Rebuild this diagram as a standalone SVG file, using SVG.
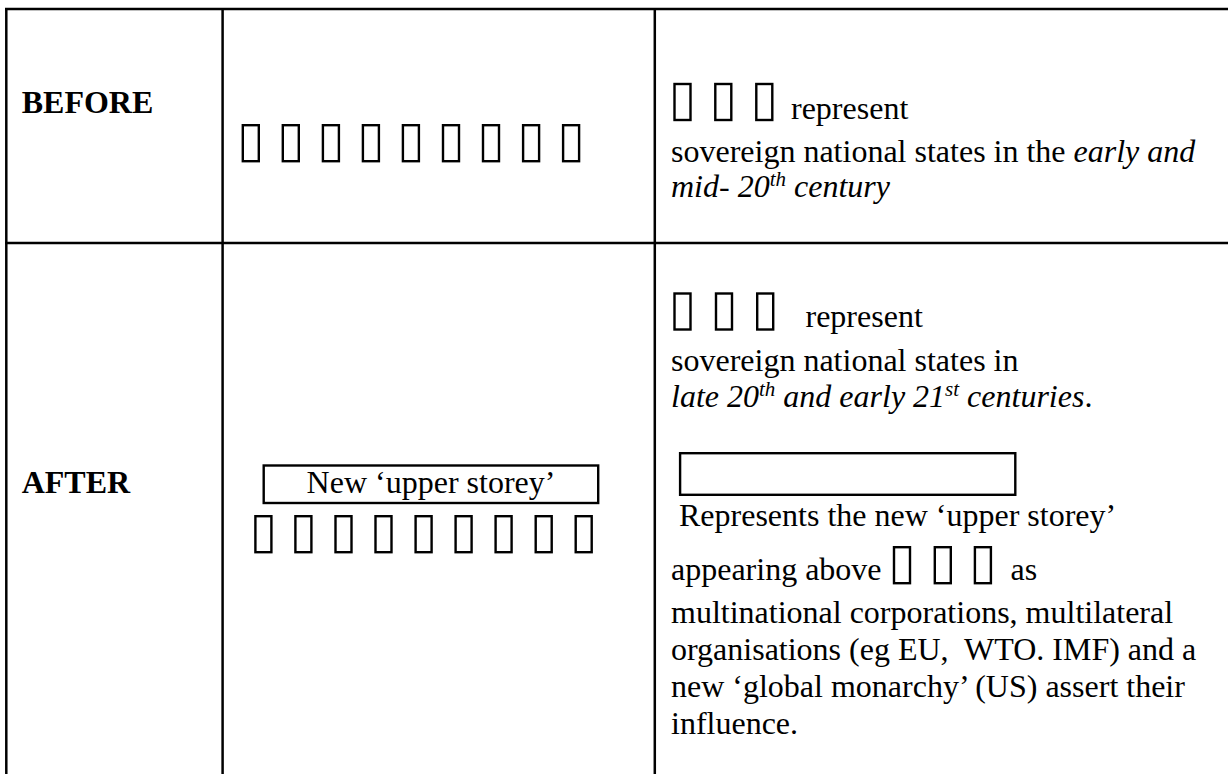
<svg xmlns="http://www.w3.org/2000/svg" width="1228" height="774" viewBox="0 0 1228 774">
<style>
  .grid { stroke: #000; stroke-width: 2.5; fill: none; }
  .box { stroke: #000; stroke-width: 2.4; fill: none; }
  .frame { stroke: #000; stroke-width: 2.4; fill: none; }
  text { font-family: "Liberation Serif", "Times New Roman", serif; font-size: 32px; fill: #000; }
  .b { font-weight: bold; }
  .i { font-style: italic; }
  .sup { font-size: 21px; }
</style>
<defs>
  <rect id="tofu" x="0" y="0" width="16" height="36" class="box"/>
</defs>
<rect width="1228" height="774" fill="#fff"/>

<g id="table-lines" class="grid">
  <line x1="5" y1="9" x2="1228" y2="9"/>
  <line x1="5" y1="243" x2="1228" y2="243"/>
  <line x1="6.3" y1="8" x2="6.3" y2="774"/>
  <line x1="222.6" y1="8" x2="222.6" y2="774"/>
  <line x1="654.8" y1="8" x2="654.8" y2="774"/>
</g>

<g id="label-before">
  <text class="b" x="21.7" y="113">BEFORE</text>
</g>

<g id="before-states">
  <use href="#tofu" x="242.8" y="125.2"/>
  <use href="#tofu" x="282.8" y="125.2"/>
  <use href="#tofu" x="322.9" y="125.2"/>
  <use href="#tofu" x="362.9" y="125.2"/>
  <use href="#tofu" x="402.9" y="125.2"/>
  <use href="#tofu" x="443.0" y="125.2"/>
  <use href="#tofu" x="483.0" y="125.2"/>
  <use href="#tofu" x="523.1" y="125.2"/>
  <use href="#tofu" x="563.1" y="125.2"/>
</g>

<g id="before-legend">
  <use href="#tofu" x="674.5" y="84"/>
  <use href="#tofu" x="715.3" y="84"/>
  <use href="#tofu" x="756.3" y="84"/>
  <text x="791" y="119">represent</text>
  <text x="671" y="162">sovereign national states in the <tspan class="i">early and</tspan></text>
  <text class="i" x="671" y="197">mid- 20<tspan class="sup" dy="-11">th</tspan><tspan dy="11"> century</tspan></text>
</g>

<g id="label-after">
  <text class="b" x="21.7" y="493">AFTER</text>
</g>

<g id="after-upper-storey">
  <rect class="frame" x="263.7" y="465.5" width="334.5" height="37.5"/>
  <text x="431" y="493" text-anchor="middle">New ‘upper storey’</text>
</g>

<g id="after-states">
  <use href="#tofu" x="255.4" y="516.2"/>
  <use href="#tofu" x="295.4" y="516.2"/>
  <use href="#tofu" x="335.5" y="516.2"/>
  <use href="#tofu" x="375.5" y="516.2"/>
  <use href="#tofu" x="415.6" y="516.2"/>
  <use href="#tofu" x="455.6" y="516.2"/>
  <use href="#tofu" x="495.6" y="516.2"/>
  <use href="#tofu" x="535.7" y="516.2"/>
  <use href="#tofu" x="575.7" y="516.2"/>
</g>

<g id="after-legend">
  <use href="#tofu" x="674.5" y="293.5"/>
  <use href="#tofu" x="716.0" y="293.5"/>
  <use href="#tofu" x="757.2" y="293.5"/>
  <text x="805.5" y="327">represent</text>
  <text x="671" y="370.5">sovereign national states in</text>
  <text x="671" y="406.5"><tspan class="i">late 20</tspan><tspan class="i sup" dy="-11">th</tspan><tspan class="i" dy="11"> and early 21</tspan><tspan class="i sup" dy="-11">st</tspan><tspan class="i" dy="11"> centuries</tspan>.</text>
</g>

<g id="after-upper-legend">
  <rect class="frame" x="680.1" y="453.2" width="335.2" height="41.6"/>
  <text x="679" y="526">Represents the new ‘upper storey’</text>
  <text x="671" y="580">appearing above</text>
  <use href="#tofu" x="894" y="547.2"/>
  <use href="#tofu" x="934.8" y="547.2"/>
  <use href="#tofu" x="974.9" y="547.2"/>
  <text x="1010.5" y="580">as</text>
  <text x="671" y="623">multinational corporations, multilateral</text>
  <text x="671" y="660" style="white-space:pre">organisations (eg EU,  WTO. IMF) and a</text>
  <text x="671" y="697">new ‘global monarchy’ (US) assert their</text>
  <text x="671" y="734">influence.</text>
</g>
</svg>
